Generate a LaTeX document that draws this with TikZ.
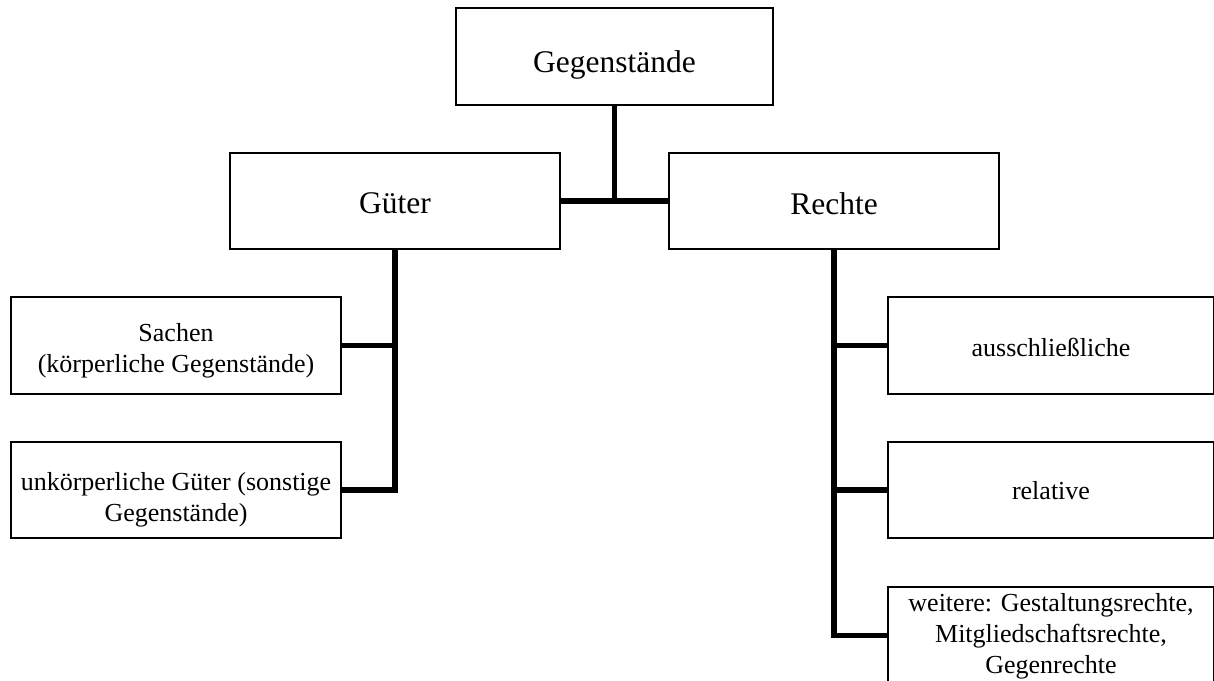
\documentclass[tikz,border=0pt]{standalone}
\usepackage{fontspec}
\setmainfont{Liberation Serif}
\begin{document}
\begin{tikzpicture}[x=1pt,y=-1pt,
  box/.style={draw=black,line width=1.6pt,fill=white,rectangle,inner sep=0pt},
  bigtext/.style={inner sep=0pt,align=center,font=\fontsize{31.5}{36}\selectfont},
  smalltext/.style={inner sep=0pt,align=center,font=\fontsize{26}{30.8}\selectfont},
  conn/.style={draw=black,line width=5.5pt,line join=miter}]
\fill[white] (0,0) rectangle (1214,680);
\useasboundingbox (0,0) rectangle (1214,680);
\clip (0,0) rectangle (1214,680);
% boxes
\node[box,minimum width=317pt,minimum height=97pt] (gg) at (614.5,56.5) {};
\node[box,minimum width=330pt,minimum height=96pt] (gu) at (395,201) {};
\node[box,minimum width=330pt,minimum height=96pt] (re) at (834,201) {};
\node[box,minimum width=330pt,minimum height=97pt] (sa) at (176,345.5) {};
\node[box,minimum width=330pt,minimum height=96pt] (uk) at (176,490) {};
\node[box,minimum width=326pt,minimum height=97pt] (au) at (1051,345.5) {};
\node[box,minimum width=326pt,minimum height=96pt] (rl) at (1051,490) {};
\node[box,minimum width=326pt,minimum height=97pt] (we) at (1051,635.5) {};
% texts
\node[bigtext] (ggt) at ([yshift=-8pt]gg.center) {Gegenstände};
\node[bigtext] (gut) at ([yshift=-2.5pt]gu.center) {Güter};
\node[bigtext] (ret) at ([yshift=-2.5pt]re.center) {Rechte};
\node[smalltext] (sat) at ([yshift=-5.5pt]sa.center) {Sachen\\(körperliche Gegenstände)};
\node[smalltext] (ukt) at ([yshift=-10pt]uk.center) {unkörperliche Güter (sonstige\\Gegenstände)};
\node[smalltext] (aut) at ([yshift=-1.5pt]au.center) {ausschließliche};
\node[smalltext] (rlt) at ([yshift=-1pt]rl.center) {relative};
\node[smalltext] (wet) at ([yshift=-1pt]we.center) {weitere: Gestaltungsrechte,\\Mitgliedschaftsrechte,\\Gegenrechte};
% connectors
\draw[conn] (gg.south) -- (gg.south |- gu.east);
\draw[conn] (gu.east) -- (re.west);
\draw[conn] (gu.south) |- (uk.east);
\draw[conn] (gu.south |- sa.east) -- (sa.east);
\draw[conn] (re.south) |- (we.west);
\draw[conn] (re.south |- au.west) -- (au.west);
\draw[conn] (re.south |- rl.west) -- (rl.west);
\end{tikzpicture}
\end{document}
